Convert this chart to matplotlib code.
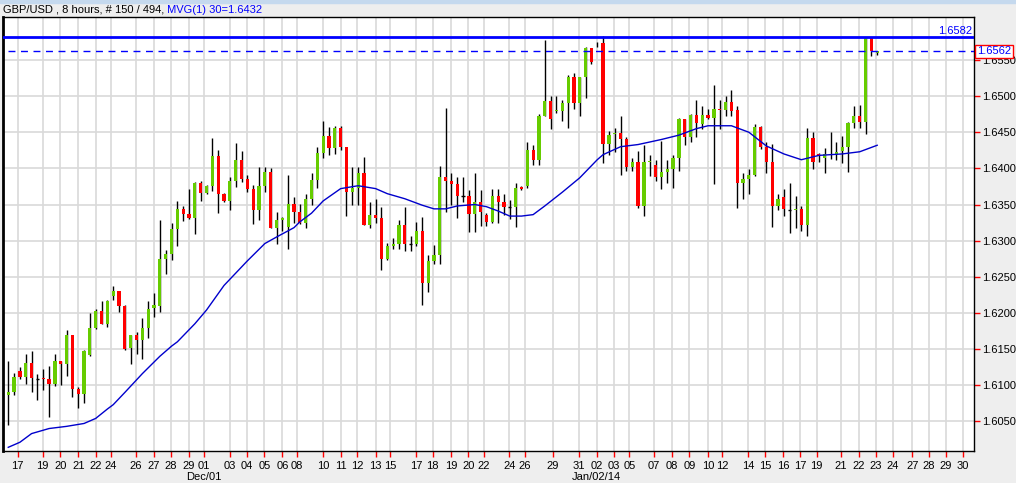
import matplotlib
matplotlib.use("Agg")
import matplotlib.pyplot as plt
from matplotlib.patches import Rectangle

plt.rcParams['font.family'] = ['Liberation Sans', 'DejaVu Sans']

# GBP/USD 8 hour candles (open, high, low, close)
opens = [1.6086, 1.6090, 1.6119, 1.6111, 1.6131, 1.6109, 1.6110, 1.6108, 1.6101, 1.6133,
         1.6129, 1.6169, 1.6095, 1.6088, 1.6142, 1.6179, 1.6202, 1.6184, 1.6223, 1.6230,
         1.6210, 1.6151, 1.6169, 1.6162, 1.6179, 1.6207, 1.6209, 1.6275, 1.6281, 1.6316,
         1.6344, 1.6337, 1.6331, 1.6380, 1.6366, 1.6376, 1.6417, 1.6365, 1.6355, 1.6382,
         1.6412, 1.6386, 1.6372, 1.6342, 1.6376, 1.6395, 1.6318, 1.6328, 1.6319, 1.6351,
         1.6340, 1.6325, 1.6358, 1.6384, 1.6421, 1.6445, 1.6428, 1.6456, 1.6429, 1.6367,
         1.6373, 1.6394, 1.6322, 1.6336, 1.6331, 1.6275, 1.6293, 1.6295, 1.6322, 1.6295,
         1.6295, 1.6313, 1.6242, 1.6272, 1.6280, 1.6388, 1.6383, 1.6379, 1.6362, 1.6362,
         1.6337, 1.6353, 1.6336, 1.6326, 1.6362, 1.6354, 1.6347, 1.6347, 1.6374, 1.6376,
         1.6425, 1.6412, 1.6473, 1.6493, 1.6479, 1.6479, 1.6491, 1.6526, 1.6491, 1.6526,
         1.6566, 1.6573, 1.6574, 1.6434, 1.6447, 1.6449, 1.6441, 1.6402, 1.6409, 1.6348,
         1.6409, 1.6405, 1.6388, 1.6395, 1.6399, 1.6414, 1.6468, 1.6443, 1.6474, 1.6461,
         1.6474, 1.6470, 1.6482, 1.6481, 1.6492, 1.6481, 1.6380, 1.6386, 1.6391, 1.6457,
         1.6430, 1.6409, 1.6348, 1.6360, 1.6342, 1.6342, 1.6344, 1.6321, 1.6442, 1.6420,
         1.6415, 1.6420, 1.6418, 1.6424, 1.6430, 1.6463, 1.6473, 1.6464, 1.6580, 1.6560]
highs = [1.6133, 1.6117, 1.6125, 1.6143, 1.6147, 1.6115, 1.6122, 1.6126, 1.6143, 1.6134,
         1.6176, 1.6170, 1.6098, 1.6148, 1.6200, 1.6205, 1.6216, 1.6218, 1.6237, 1.6231,
         1.6211, 1.6170, 1.6173, 1.6193, 1.6217, 1.6227, 1.6328, 1.6287, 1.6325, 1.6355,
         1.6348, 1.6372, 1.6381, 1.6382, 1.6377, 1.6442, 1.6425, 1.6366, 1.6388, 1.6435,
         1.6424, 1.6391, 1.6377, 1.6402, 1.6402, 1.6401, 1.6339, 1.6333, 1.6391, 1.6361,
         1.6351, 1.6365, 1.6393, 1.6430, 1.6465, 1.6457, 1.6458, 1.6458, 1.6430, 1.6402,
         1.6402, 1.6416, 1.6354, 1.6357, 1.6347, 1.6297, 1.6303, 1.6329, 1.6347, 1.6307,
         1.6326, 1.6333, 1.6280, 1.6294, 1.6403, 1.6483, 1.6394, 1.6388, 1.6388, 1.6370,
         1.6393, 1.6370, 1.6338, 1.6371, 1.6371, 1.6364, 1.6356, 1.6380, 1.6376, 1.6437,
         1.6432, 1.6475, 1.6577, 1.6500, 1.6500, 1.6495, 1.6529, 1.6532, 1.6527, 1.6568,
         1.6567, 1.6575, 1.6583, 1.6452, 1.6456, 1.6473, 1.6443, 1.6415, 1.6424, 1.6432,
         1.6419, 1.6411, 1.6438, 1.6411, 1.6419, 1.6470, 1.6469, 1.6475, 1.6495, 1.6486,
         1.6482, 1.6515, 1.6495, 1.6500, 1.6508, 1.6487, 1.6394, 1.6399, 1.6462, 1.6459,
         1.6436, 1.6434, 1.6364, 1.6371, 1.6380, 1.6362, 1.6348, 1.6456, 1.6450, 1.6421,
         1.6428, 1.6450, 1.6436, 1.6445, 1.6464, 1.6486, 1.6488, 1.6582, 1.6582, 1.6563]
lows = [1.6045, 1.6087, 1.6108, 1.6101, 1.6090, 1.6079, 1.6093, 1.6056, 1.6099, 1.6100,
        1.6112, 1.6083, 1.6069, 1.6075, 1.6141, 1.6178, 1.6184, 1.6181, 1.6218, 1.6201,
        1.6149, 1.6129, 1.6143, 1.6136, 1.6165, 1.6194, 1.6201, 1.6254, 1.6273, 1.6293,
        1.6327, 1.6330, 1.6309, 1.6355, 1.6365, 1.6369, 1.6338, 1.6354, 1.6342, 1.6374,
        1.6381, 1.6368, 1.6323, 1.6328, 1.6368, 1.6317, 1.6296, 1.6313, 1.6289, 1.6324,
        1.6323, 1.6318, 1.6350, 1.6373, 1.6415, 1.6418, 1.6420, 1.6426, 1.6334, 1.6350,
        1.6350, 1.6321, 1.6317, 1.6324, 1.6259, 1.6273, 1.6288, 1.6288, 1.6286, 1.6285,
        1.6293, 1.6211, 1.6229, 1.6268, 1.6268, 1.6339, 1.6350, 1.6332, 1.6354, 1.6312,
        1.6312, 1.6320, 1.6320, 1.6325, 1.6325, 1.6336, 1.6330, 1.6319, 1.6370, 1.6373,
        1.6404, 1.6404, 1.6472, 1.6455, 1.6476, 1.6466, 1.6456, 1.6482, 1.6473, 1.6498,
        1.6544, 1.6568, 1.6408, 1.6418, 1.6423, 1.6391, 1.6397, 1.6397, 1.6345, 1.6334,
        1.6390, 1.6382, 1.6372, 1.6380, 1.6373, 1.6396, 1.6433, 1.6437, 1.6444, 1.6454,
        1.6469, 1.6379, 1.6454, 1.6473, 1.6473, 1.6345, 1.6357, 1.6365, 1.6390, 1.6427,
        1.6393, 1.6319, 1.6342, 1.6334, 1.6311, 1.6318, 1.6313, 1.6307, 1.6399, 1.6409,
        1.6393, 1.6413, 1.6412, 1.6408, 1.6395, 1.6456, 1.6456, 1.6448, 1.6556, 1.6557]
closes = [1.6090, 1.6111, 1.6111, 1.6131, 1.6110, 1.6109, 1.6108, 1.6101, 1.6133, 1.6129,
          1.6169, 1.6095, 1.6088, 1.6147, 1.6179, 1.6202, 1.6185, 1.6217, 1.6230, 1.6210,
          1.6150, 1.6169, 1.6162, 1.6179, 1.6206, 1.6211, 1.6275, 1.6281, 1.6316, 1.6344,
          1.6337, 1.6331, 1.6380, 1.6366, 1.6376, 1.6417, 1.6365, 1.6355, 1.6382, 1.6412,
          1.6386, 1.6372, 1.6342, 1.6376, 1.6395, 1.6318, 1.6328, 1.6332, 1.6351, 1.6340,
          1.6325, 1.6358, 1.6384, 1.6421, 1.6445, 1.6428, 1.6456, 1.6429, 1.6367, 1.6373,
          1.6394, 1.6322, 1.6336, 1.6331, 1.6275, 1.6293, 1.6295, 1.6322, 1.6295, 1.6295,
          1.6313, 1.6242, 1.6272, 1.6280, 1.6388, 1.6383, 1.6379, 1.6362, 1.6362, 1.6337,
          1.6353, 1.6340, 1.6326, 1.6362, 1.6354, 1.6347, 1.6347, 1.6373, 1.6372, 1.6425,
          1.6412, 1.6473, 1.6493, 1.6469, 1.6480, 1.6491, 1.6526, 1.6491, 1.6526, 1.6566,
          1.6547, 1.6574, 1.6434, 1.6446, 1.6449, 1.6441, 1.6402, 1.6409, 1.6348, 1.6409,
          1.6410, 1.6388, 1.6395, 1.6399, 1.6414, 1.6468, 1.6443, 1.6474, 1.6463, 1.6474,
          1.6470, 1.6482, 1.6481, 1.6492, 1.6479, 1.6380, 1.6386, 1.6391, 1.6457, 1.6430,
          1.6409, 1.6348, 1.6358, 1.6344, 1.6342, 1.6343, 1.6321, 1.6442, 1.6409, 1.6417,
          1.6420, 1.6418, 1.6423, 1.6430, 1.6463, 1.6473, 1.6464, 1.6580, 1.6563, 1.6562]

# 30 period moving average, read at some bars
ma_idx = [0, 2, 4, 7, 10, 13, 15, 17, 18, 20, 23, 26, 28, 29, 32, 34, 37, 39, 41, 44,
          46, 49, 50, 52, 54, 57, 60, 63, 65, 68, 71, 73, 75, 77, 80, 82, 84, 86, 88, 90,
          92, 95, 98, 101, 102, 105, 108, 112, 115, 118, 120, 124, 125, 127, 130, 133, 136,
          139, 143, 146, 149]
ma_val = [1.6014, 1.6021, 1.6033, 1.6040, 1.6043, 1.6047, 1.6054, 1.6067, 1.6073, 1.6090,
          1.6116, 1.6140, 1.6154, 1.6160, 1.6185, 1.6204, 1.6238, 1.6255, 1.6272, 1.6296,
          1.6305, 1.6318, 1.6326, 1.6338, 1.6355, 1.6372, 1.6376, 1.6372, 1.6365, 1.6358,
          1.6349, 1.6344, 1.6344, 1.6348, 1.6350, 1.6347, 1.6341, 1.6334, 1.6334, 1.6336,
          1.6348, 1.6367, 1.6387, 1.6412, 1.6419, 1.6430, 1.6433, 1.6440, 1.6446, 1.6455,
          1.6459, 1.6459, 1.6456, 1.6450, 1.6431, 1.6420, 1.6412, 1.6418, 1.6420, 1.6423,
          1.6432]

x_labels = ['17', '19', '20', '21', '22', '24', '26', '27', '28', '29', '01', '03', '04',
            '05', '06', '08', '10', '11', '12', '13', '15', '17', '18', '19', '20', '22',
            '24', '26', '29', '31', '02', '03', '05', '07', '08', '09', '10', '12', '14',
            '15', '16', '17', '19', '21', '22', '23', '24', '27', '28', '29', '30']
x_pos = [1.6, 5.9, 8.9, 12.0, 15.0, 17.6, 21.9, 25.0, 27.9, 31.0, 33.6, 38.0, 40.9,
         43.9, 47.0, 49.5, 54.0, 57.0, 59.8, 63.0, 65.5, 70.0, 72.8, 75.9, 78.9, 81.6,
         85.9, 88.6, 93.4, 97.9, 100.9, 103.9, 106.5, 110.7, 113.8, 116.8, 120.0, 122.4, 126.9,
         129.8, 132.9, 135.8, 138.6, 142.8, 145.9, 148.8, 151.7, 155.0, 157.9, 160.8, 163.7]
month_labels = ['Dec/01', 'Jan/02/14']
month_pos = [33.6, 100.9]
y_ticks = [1.6050, 1.6100, 1.6150, 1.6200, 1.6250, 1.6300, 1.6350, 1.6400, 1.6450, 1.6500, 1.6550]

high_line = 1.6582
last_price = 1.6562

fig = plt.figure(figsize=(10.16, 4.83), dpi=100, facecolor='#EEEEEE')
ax = fig.add_axes([3 / 1016, 1 - 451 / 483, 971 / 1016, 434 / 483])
ax.set_facecolor('white')

green = '#66CC00'
red = '#FF0000'
for i in range(len(opens)):
    o, h, l, c = opens[i], highs[i], lows[i], closes[i]
    ax.vlines(i, l, h, color='black', lw=1, zorder=3)
    if o == c:
        ax.hlines(o, i - 0.28, i + 0.28, color='black', lw=1, zorder=4)
    else:
        col = green if c > o else red
        ax.bar(i, max(abs(c - o), 0.00012), bottom=min(o, c), width=0.55,
               color=col, edgecolor='none', zorder=4)

ax.plot(ma_idx, ma_val, color='#0000CC', lw=1, zorder=5)

ax.axhline(high_line, color='#0000FF', lw=2, zorder=6)
ax.axhline(last_price, xmin=0.005, color='#0000FF', lw=1, ls=(0, (5, 4)), zorder=6)
ax.text(0.998, high_line + 0.0001, '%.4f' % high_line, transform=ax.get_yaxis_transform(),
        ha='right', va='bottom', color='#0000FF', fontsize=8)

ax.set_xlim(-0.9, 165.6)
ax.set_ylim(1.60089, 1.66095)

ax.yaxis.tick_right()
ax.set_yticks(y_ticks, ['%.4f' % v for v in y_ticks])
ax.set_xticks(x_pos, x_labels)
ax.tick_params(axis='both', direction='out', length=4, width=1, colors='red',
               labelcolor='black', labelsize=8)
ax.tick_params(axis='y', pad=2)
ax.tick_params(axis='x', pad=3)
ax.grid(True, color='#D9D9D9', lw=1.2)
ax.set_axisbelow(True)

for lbl, p in zip(month_labels, month_pos):
    ax.text(p, -0.059, lbl, transform=ax.get_xaxis_transform(), ha='center', va='center',
            fontsize=8, color='black')

ax.text(1.003, last_price, '%.4f' % last_price, transform=ax.get_yaxis_transform(),
        ha='left', va='center', color='#0000FF', fontsize=8, zorder=10, clip_on=False,
        bbox=dict(boxstyle='square,pad=0.15', facecolor='white', edgecolor='red', lw=1))

for s in ['top', 'right', 'bottom']:
    ax.spines[s].set_linewidth(1)
    ax.spines[s].set_color('black')
ax.spines['left'].set_linewidth(2)

fig.patches.append(Rectangle((0, 1 - 3 / 483), 1, 3 / 483, transform=fig.transFigure,
                             color='#C5D9EE', zorder=0))
title_black = fig.text(3 / 1016, 1 - 10 / 483, 'GBP/USD , 8 hours, # 150 / 494,', fontsize=8,
                       va='center', ha='left', color='black')
ax.annotate(' MVG(1) 30=1.6432', xy=(1, 0.5), xycoords=title_black, fontsize=8,
            va='center', ha='left', color='#0000FF', annotation_clip=False)

fig.savefig('out.png', dpi=100, facecolor=fig.get_facecolor())
